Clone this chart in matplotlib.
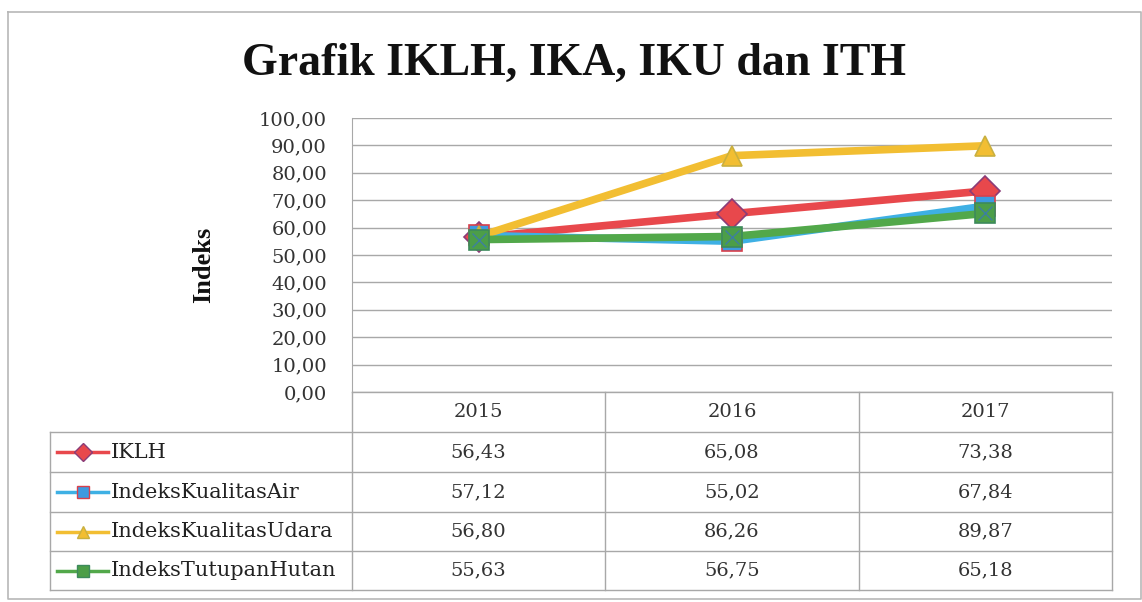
import matplotlib

matplotlib.use("Agg")
import matplotlib.pyplot as plt
from matplotlib.ticker import FuncFormatter

years = ["2015", "2016", "2017"]
series_names = ["IKLH", "IndeksKualitasAir", "IndeksKualitasUdara", "IndeksTutupanHutan"]
iklh = [56.43, 65.08, 73.38]
ika = [57.12, 55.02, 67.84]
iku = [56.80, 86.26, 89.87]
ith = [55.63, 56.75, 65.18]
series_values = [iklh, ika, iku, ith]

title = "Grafik IKLH, IKA, IKU dan ITH"
y_label = "Indeks"

# style per series: line colour, marker, marker face, marker edge
STYLE = [
    ("#E8484C", "D", "#E8484C", "#8A3C78"),
    ("#3EB0E4", "s", "#3E9AE0", "#D8404C"),
    ("#F2BE32", "^", "#F2BE32", "#C9B040"),
    ("#52A84A", "s", "#4C9E48", "#3D8A5C"),
]

W, H = 1142, 602
SERIF = "DejaVu Serif"
GRID = "#A8A8A8"

# layout in pixels
ax_left, ax_right = 352, 1112
ax_top, ax_bottom = 118, 392
tab_left = 50
row_edges = [392, 432, 472, 512, 551, 590]

fig = plt.figure(figsize=(W / 100, H / 100), dpi=100)
fig.patch.set_facecolor("white")

# background layer in pixel coordinates for the frame and the data table
bg = fig.add_axes([0, 0, 1, 1], zorder=0)
bg.set_xlim(0, W)
bg.set_ylim(H, 0)
bg.axis("off")

bg.plot([8, 1141, 1141, 8, 8], [12, 12, 599, 599, 12], color="#B8B8B8", lw=1.2)
bg.text(574, 64, title, ha="center", va="center", fontsize=33,
        fontweight="bold", family="Liberation Serif", color="#111111")
bg.text(204, 265, y_label, ha="center", va="center", rotation=90, fontsize=19,
        fontweight="bold", family="Liberation Serif", color="#111111")

# data table below the plot
col_w = (ax_right - ax_left) / len(years)
col_edges = [ax_left + i * col_w for i in range(len(years) + 1)]
for x in col_edges:
    bg.plot([x, x], [row_edges[0], row_edges[-1]], color=GRID, lw=1)
bg.plot([tab_left, tab_left], [row_edges[1], row_edges[-1]], color=GRID, lw=1)
for i, y in enumerate(row_edges):
    x0 = ax_left if i == 0 else tab_left
    bg.plot([x0, ax_right], [y, y], color=GRID, lw=1)

for j, yr in enumerate(years):
    bg.text(col_edges[j] + col_w / 2, (row_edges[0] + row_edges[1]) / 2, yr,
            ha="center", va="center", fontsize=14, family=SERIF, color="#333333")

for i, (name, vals) in enumerate(zip(series_names, series_values)):
    yc = (row_edges[i + 1] + row_edges[i + 2]) / 2
    c, mk, mf, me = STYLE[i]
    bg.plot([57, 108], [yc, yc], color=c, lw=2.5)
    bg.plot([82.5], [yc], marker=mk, ms=9, mfc=mf, mec=me, mew=1)
    bg.text(111, yc, name, ha="left", va="center", fontsize=15,
            family=SERIF, color="#222222")
    for j, v in enumerate(vals):
        bg.text(col_edges[j] + col_w / 2, yc, f"{v:.2f}".replace(".", ","),
                ha="center", va="center", fontsize=14, family=SERIF, color="#333333")

# line chart
ax = fig.add_axes([ax_left / W, 1 - ax_bottom / H,
                   (ax_right - ax_left) / W, (ax_bottom - ax_top) / H], zorder=1)
ax.patch.set_alpha(0)
x = list(range(len(years)))
for i, vals in enumerate(series_values):
    c, mk, mf, me = STYLE[i]
    ax.plot(x, vals, color=c, lw=5.5, marker=mk, ms=15, mfc=mf, mec=me, mew=1.2,
            solid_capstyle="round", zorder=2 + i)
ax.plot(x, ith, ls="none", marker="x", ms=10, mec="#3D7FA0", mew=1, zorder=6)

ax.set_xlim(-0.5, len(years) - 0.5)
ax.set_ylim(0, 100)
ax.set_yticks(range(0, 101, 10))
ax.yaxis.set_major_formatter(FuncFormatter(lambda v, p: f"{v:.2f}".replace(".", ",")))
ax.set_xticks([])
ax.tick_params(axis="y", length=0, pad=18, labelsize=14, labelcolor="#333333")
for lab in ax.get_yticklabels():
    lab.set_family(SERIF)
ax.yaxis.grid(True, color=GRID, lw=1)
ax.set_axisbelow(True)
for s in ("top", "right", "bottom"):
    ax.spines[s].set_visible(False)
ax.spines["left"].set_color(GRID)

fig.savefig("out.png", dpi=100)
